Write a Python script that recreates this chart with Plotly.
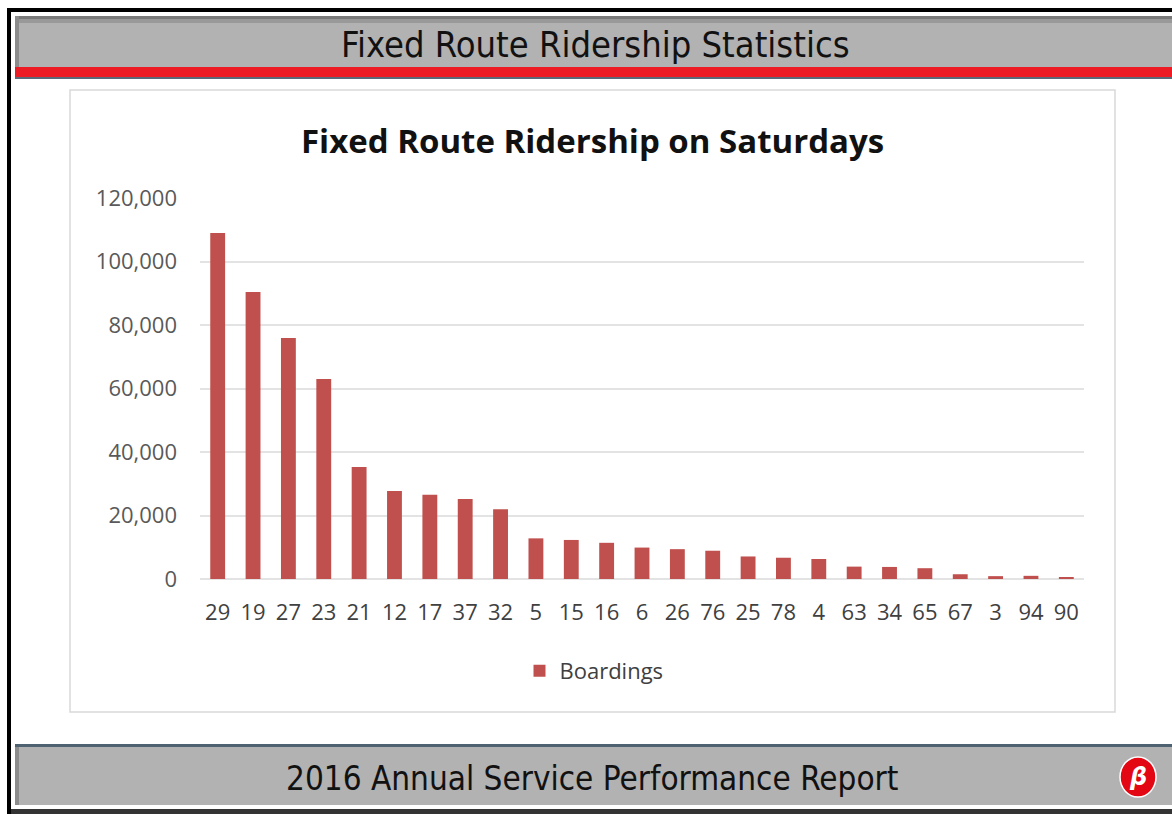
import plotly.graph_objects as go

routes = ["29", "19", "27", "23", "21", "12", "17", "37", "32", "5", "15", "16",
          "6", "26", "76", "25", "78", "4", "63", "34", "65", "67", "3", "94", "90"]
boardings = [109000, 90400, 75900, 63000, 35300, 27700, 26500, 25200, 22000,
             12800, 12300, 11400, 9900, 9400, 8900, 7100, 6700, 6300,
             3900, 3800, 3400, 1500, 900, 1000, 500]
series_name = "Boardings"
chart_title = "Fixed Route Ridership on Saturdays"
header_text = "Fixed Route Ridership Statistics"
footer_text = "2016 Annual Service Performance Report"
y_ticks = [0, 20000, 40000, 60000, 80000, 100000, 120000]

W, H = 1172, 814
PL, PR, PT, PB = 200, 1084, 198, 579


def px(x):
    return (x - PL) / (PR - PL)


def py(y):
    return (PB - y) / (PB - PT)


def rect(x0, y0, x1, y1, fill, line=None, lw=0, layer="below"):
    return dict(type="rect", xref="paper", yref="paper",
                x0=px(x0), x1=px(x1), y0=py(y1), y1=py(y0),
                fillcolor=fill, line=dict(color=line or fill, width=lw), layer=layer)


shapes = [
    # outer black frame
    rect(7, 8, 1180, 12, "#000000"),
    rect(7, 8, 11, 814, "#000000"),
    # header band
    rect(15, 16, 1180, 67, "#b2b2b2"),
    rect(15, 16, 1180, 19, "#7a7a7a"),
    rect(15, 19, 1180, 23, "#999999"),
    rect(15, 16, 19, 67, "#8c8c8c"),
    rect(15, 67, 1180, 77, "#ed1c24"),
    rect(15, 77, 1180, 79, "#5a6a78"),
    # chart box
    rect(70, 90, 1115, 712, "rgba(0,0,0,0)", "#d9d9d9", 1.5),
    # footer
    rect(15, 744, 1180, 747, "#4f6272"),
    rect(15, 747, 1180, 805, "#b2b2b2"),
    rect(15, 747, 19, 805, "#8c8c8c"),
    rect(11, 809, 1180, 814, "#333333"),
    # logo
    dict(type="circle", xref="paper", yref="paper",
         x0=px(1120), x1=px(1156), y0=py(797), y1=py(757),
         fillcolor="#e30613", line=dict(color="#ffffff", width=1.5), layer="above"),
]

narrow = "Liberation Sans Narrow, Arial Narrow, DejaVu Sans Condensed"
annotations = [
    dict(text=header_text, xref="paper", yref="paper", x=px(595), y=py(44),
         xanchor="center", yanchor="middle", showarrow=False,
         font=dict(family=narrow, size=36, color="#111111")),
    dict(text=footer_text, xref="paper", yref="paper", x=px(592), y=py(778),
         xanchor="center", yanchor="middle", showarrow=False,
         font=dict(family=narrow, size=33, color="#111111")),
    dict(text="<b><i>β</i></b>", xref="paper", yref="paper", x=px(1138), y=py(777),
         xanchor="center", yanchor="middle", showarrow=False,
         font=dict(family="DejaVu Sans", size=24, color="#ffffff")),
    dict(text="<b>" + chart_title + "</b>", xref="paper", yref="paper", x=px(592), y=py(140),
         xanchor="center", yanchor="middle", showarrow=False,
         font=dict(family="Open Sans", size=33, color="#111111")),
]

fig = go.Figure()
fig.add_trace(go.Bar(x=routes, y=boardings, name=series_name,
                     marker=dict(color="#c0504d", line=dict(width=0))))

fig.update_layout(
    width=W, height=H,
    margin=dict(l=PL, r=W - PR, t=PT, b=H - PB, pad=0),
    paper_bgcolor="#ffffff", plot_bgcolor="#ffffff",
    bargap=0.58,
    showlegend=True,
    legend=dict(x=px(594), y=py(671), xanchor="center", yanchor="middle",
                orientation="h", font=dict(family="Open Sans", size=22, color="#404040"),
                itemwidth=30),
    shapes=shapes,
    annotations=annotations,
    font=dict(family="Open Sans", color="#595959"),
)
fig.update_xaxes(type="category", showgrid=False, showline=False, ticks="",
                 tickfont=dict(family="Open Sans", size=22, color="#404040"),
                 ticklabelstandoff=18, fixedrange=True)
fig.update_yaxes(range=[0, 120000], tickvals=y_ticks, tickformat=",d",
                 showgrid=True, gridcolor="#e3e3e3", gridwidth=1.5,
                 zeroline=True, zerolinecolor="#e3e3e3", zerolinewidth=1.5,
                 showline=False, ticks="",
                 tickfont=dict(family="Open Sans", size=22, color="#595959"),
                 ticklabelstandoff=22, fixedrange=True)

fig.write_html("out.html", config={"displayModeBar": False},
               post_script="document.body.style.margin='0';")
